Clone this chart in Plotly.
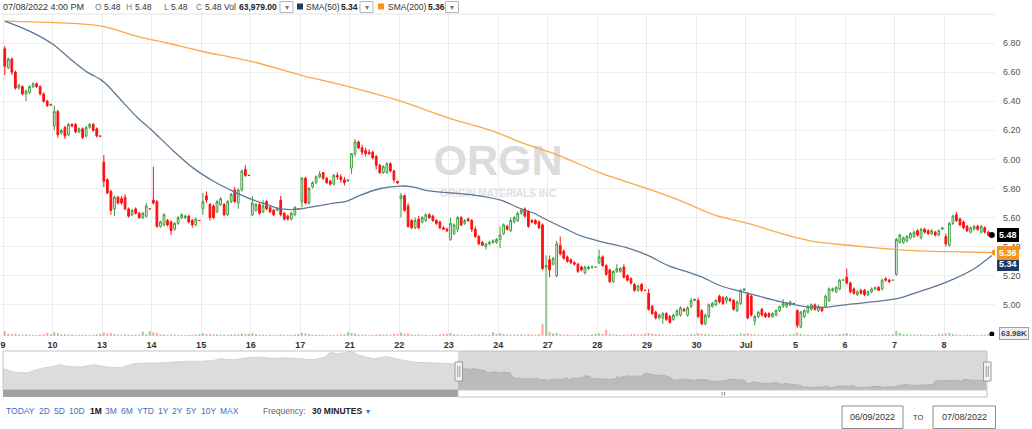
import plotly.graph_objects as go

W, H = 1032, 429
FONT = "Liberation Sans, Arial, sans-serif"

# ---------------- data ----------------
day_labels = ["9", "10", "13", "14", "15", "16", "17", "21", "22", "23", "24",
              "27", "28", "29", "30", "Jul", "5", "6", "7", "8"]
BARS_PER_DAY = 14   # 30-minute bars 9:30 ... 16:00

open_ = [
    6.76, 6.63, 6.69, 6.60, 6.49, 6.50, 6.45, 6.46, 6.50, 6.52, 6.50, 6.45, 6.40, 6.37,
    6.23, 6.33, 6.18, 6.22, 6.17, 6.24, 6.24, 6.19, 6.21, 6.16, 6.22, 6.24, 6.21, 6.16,
    5.98, 5.86, 5.78, 5.66, 5.74, 5.73, 5.74, 5.66, 5.62, 5.66, 5.63, 5.60, 5.61, 5.66,
    5.72, 5.71, 5.54, 5.55, 5.58, 5.57, 5.52, 5.56, 5.60, 5.60, 5.61, 5.58, 5.55, 5.58,
    5.66, 5.75, 5.69, 5.68, 5.64, 5.69, 5.69, 5.62, 5.71, 5.79, 5.70, 5.79, 5.93, 5.89,
    5.62, 5.65, 5.69, 5.64, 5.71, 5.67, 5.65, 5.65, 5.72, 5.63, 5.61, 5.59, 5.62, 5.66,
    5.71, 5.87, 5.70, 5.81, 5.84, 5.88, 5.91, 5.87, 5.85, 5.83, 5.89, 5.88, 5.86, 5.85,
    5.94, 6.04, 6.12, 6.08, 6.06, 6.05, 6.05, 6.02, 5.96, 5.91, 5.91, 5.97, 5.92, 5.85,
    5.73, 5.75, 5.68, 5.58, 5.53, 5.59, 5.57, 5.58, 5.62, 5.61, 5.58, 5.57, 5.53, 5.52,
    5.45, 5.49, 5.52, 5.60, 5.56, 5.59, 5.58, 5.52, 5.47, 5.43, 5.40, 5.42, 5.43, 5.43,
    5.45, 5.49, 5.54, 5.51, 5.57, 5.58, 5.63, 5.66, 5.64, 5.58, 5.58, 5.57, 5.55, 5.26,
    5.31, 5.28, 5.20, 5.41, 5.37, 5.33, 5.31, 5.29, 5.28, 5.26, 5.22, 5.25, 5.26, 5.26,
    5.29, 5.33, 5.27, 5.24, 5.16, 5.23, 5.23, 5.26, 5.20, 5.18, 5.14, 5.10, 5.14, 5.10,
    5.08, 4.99, 4.95, 4.91, 4.91, 4.94, 4.92, 4.90, 4.93, 4.93, 4.97, 4.93, 4.99, 5.03,
    5.03, 4.96, 4.87, 4.92, 4.99, 5.00, 5.06, 5.05, 5.03, 5.04, 5.03, 4.96, 5.01, 5.10,
    5.07, 5.06, 4.89, 4.92, 4.97, 4.94, 4.94, 4.92, 4.93, 4.96, 4.99, 4.99, 5.00, 5.01,
    4.96, 4.85, 4.92, 4.95, 4.97, 5.00, 4.96, 4.98, 4.99, 5.03, 5.10, 5.09, 5.11, 5.17,
    5.19, 5.15, 5.11, 5.07, 5.10, 5.10, 5.07, 5.09, 5.11, 5.12, 5.11, 5.18, 5.17, 5.17,
    5.21, 5.43, 5.43, 5.44, 5.46, 5.47, 5.51, 5.46, 5.52, 5.51, 5.49, 5.50, 5.48, 5.52,
    5.47, 5.41, 5.56, 5.62, 5.59, 5.57, 5.54, 5.50, 5.52, 5.54, 5.50, 5.53, 5.50, 5.48,
]
high = [
    6.78, 6.70, 6.70, 6.61, 6.52, 6.51, 6.48, 6.51, 6.53, 6.53, 6.51, 6.46, 6.41, 6.38,
    6.37, 6.34, 6.21, 6.23, 6.25, 6.25, 6.25, 6.22, 6.22, 6.23, 6.25, 6.25, 6.22, 6.16,
    6.03, 5.87, 5.79, 5.75, 5.75, 5.75, 5.76, 5.67, 5.66, 5.67, 5.64, 5.64, 5.70, 5.66,
    5.95, 5.72, 5.58, 5.63, 5.59, 5.58, 5.57, 5.61, 5.63, 5.62, 5.62, 5.59, 5.60, 5.58,
    5.77, 5.78, 5.70, 5.69, 5.72, 5.74, 5.70, 5.72, 5.77, 5.81, 5.80, 5.93, 5.96, 5.89,
    5.75, 5.70, 5.70, 5.72, 5.72, 5.68, 5.66, 5.67, 5.75, 5.64, 5.62, 5.64, 5.68, 5.66,
    5.88, 5.88, 5.81, 5.85, 5.89, 5.92, 5.91, 5.88, 5.86, 5.90, 5.91, 5.90, 5.88, 5.86,
    6.04, 6.14, 6.13, 6.10, 6.08, 6.07, 6.06, 6.03, 5.97, 5.96, 5.98, 5.98, 5.93, 5.85,
    5.77, 5.76, 5.70, 5.59, 5.60, 5.61, 5.61, 5.63, 5.63, 5.62, 5.59, 5.58, 5.54, 5.53,
    5.60, 5.56, 5.61, 5.61, 5.59, 5.60, 5.59, 5.54, 5.48, 5.44, 5.42, 5.44, 5.45, 5.46,
    5.54, 5.56, 5.55, 5.60, 5.61, 5.64, 5.66, 5.67, 5.65, 5.59, 5.59, 5.58, 5.56, 5.27,
    5.34, 5.33, 5.44, 5.47, 5.38, 5.34, 5.32, 5.30, 5.29, 5.27, 5.27, 5.27, 5.27, 5.26,
    5.38, 5.34, 5.28, 5.25, 5.24, 5.28, 5.26, 5.28, 5.21, 5.19, 5.15, 5.14, 5.15, 5.10,
    5.11, 5.00, 4.96, 4.94, 4.95, 4.95, 4.93, 4.94, 4.97, 4.99, 4.98, 4.99, 5.05, 5.04,
    5.05, 4.97, 4.94, 5.01, 5.02, 5.04, 5.07, 5.06, 5.06, 5.05, 5.04, 5.03, 5.11, 5.11,
    5.09, 5.07, 4.93, 4.96, 4.98, 4.95, 4.95, 4.95, 4.97, 4.99, 5.04, 5.02, 5.03, 5.01,
    4.97, 4.96, 4.97, 5.00, 5.01, 5.01, 5.00, 4.99, 5.07, 5.12, 5.12, 5.13, 5.18, 5.18,
    5.25, 5.16, 5.12, 5.10, 5.11, 5.11, 5.10, 5.12, 5.12, 5.13, 5.18, 5.19, 5.18, 5.17,
    5.46, 5.49, 5.47, 5.48, 5.50, 5.51, 5.52, 5.53, 5.53, 5.52, 5.52, 5.51, 5.52, 5.53,
    5.49, 5.57, 5.62, 5.64, 5.60, 5.58, 5.55, 5.54, 5.55, 5.55, 5.55, 5.54, 5.51, 5.48,
]
low = [
    6.58, 6.62, 6.58, 6.48, 6.48, 6.44, 6.40, 6.45, 6.49, 6.49, 6.44, 6.39, 6.36, 6.37,
    6.20, 6.15, 6.17, 6.14, 6.16, 6.22, 6.18, 6.18, 6.14, 6.15, 6.21, 6.19, 6.15, 6.16,
    5.81, 5.76, 5.62, 5.61, 5.69, 5.69, 5.65, 5.60, 5.61, 5.62, 5.59, 5.59, 5.60, 5.66,
    5.69, 5.53, 5.53, 5.54, 5.54, 5.48, 5.51, 5.55, 5.59, 5.59, 5.56, 5.53, 5.54, 5.58,
    5.62, 5.70, 5.58, 5.59, 5.63, 5.68, 5.61, 5.61, 5.70, 5.70, 5.66, 5.78, 5.88, 5.89,
    5.61, 5.64, 5.62, 5.63, 5.65, 5.63, 5.61, 5.65, 5.61, 5.58, 5.58, 5.58, 5.61, 5.66,
    5.67, 5.69, 5.69, 5.80, 5.83, 5.87, 5.86, 5.83, 5.82, 5.82, 5.86, 5.84, 5.82, 5.85,
    5.90, 6.02, 6.07, 6.03, 6.02, 6.03, 6.00, 5.93, 5.90, 5.90, 5.90, 5.91, 5.84, 5.83,
    5.60, 5.64, 5.53, 5.52, 5.52, 5.52, 5.56, 5.57, 5.59, 5.57, 5.55, 5.52, 5.52, 5.50,
    5.44, 5.48, 5.50, 5.54, 5.55, 5.57, 5.50, 5.46, 5.41, 5.41, 5.38, 5.41, 5.42, 5.42,
    5.39, 5.48, 5.51, 5.50, 5.56, 5.57, 5.62, 5.60, 5.53, 5.56, 5.55, 5.52, 5.24, 5.25,
    5.19, 5.27, 5.19, 5.34, 5.31, 5.29, 5.28, 5.27, 5.22, 5.23, 5.21, 5.24, 5.25, 5.26,
    5.28, 5.26, 5.20, 5.15, 5.15, 5.22, 5.22, 5.18, 5.16, 5.14, 5.09, 5.09, 5.09, 5.10,
    4.96, 4.93, 4.90, 4.90, 4.87, 4.89, 4.87, 4.89, 4.92, 4.92, 4.95, 4.92, 4.98, 5.03,
    4.91, 4.86, 4.86, 4.91, 4.98, 4.99, 5.01, 5.00, 5.01, 5.02, 4.96, 4.95, 5.00, 5.10,
    4.90, 4.92, 4.86, 4.91, 4.92, 4.91, 4.91, 4.91, 4.92, 4.95, 4.98, 4.98, 4.99, 5.01,
    4.84, 4.84, 4.91, 4.94, 4.96, 4.96, 4.95, 4.95, 4.98, 5.02, 5.09, 5.08, 5.10, 5.17,
    5.14, 5.08, 5.07, 5.06, 5.07, 5.06, 5.06, 5.08, 5.10, 5.10, 5.10, 5.16, 5.15, 5.17,
    5.20, 5.42, 5.42, 5.43, 5.45, 5.46, 5.47, 5.45, 5.49, 5.48, 5.48, 5.47, 5.47, 5.52,
    5.40, 5.40, 5.55, 5.57, 5.54, 5.52, 5.50, 5.49, 5.51, 5.51, 5.49, 5.49, 5.47, 5.48,
]
close = [
    6.64, 6.69, 6.60, 6.49, 6.51, 6.45, 6.47, 6.50, 6.52, 6.50, 6.45, 6.40, 6.37, 6.38,
    6.33, 6.17, 6.20, 6.16, 6.24, 6.23, 6.19, 6.21, 6.15, 6.22, 6.24, 6.20, 6.16, 6.16,
    5.85, 5.77, 5.65, 5.74, 5.70, 5.70, 5.66, 5.61, 5.65, 5.63, 5.60, 5.63, 5.68, 5.66,
    5.70, 5.54, 5.57, 5.62, 5.55, 5.51, 5.56, 5.60, 5.62, 5.61, 5.57, 5.55, 5.59, 5.58,
    5.71, 5.72, 5.60, 5.60, 5.71, 5.73, 5.62, 5.71, 5.76, 5.71, 5.79, 5.92, 5.89, 5.89,
    5.70, 5.69, 5.63, 5.68, 5.66, 5.64, 5.62, 5.66, 5.62, 5.59, 5.59, 5.63, 5.67, 5.66,
    5.87, 5.70, 5.80, 5.84, 5.88, 5.90, 5.87, 5.84, 5.83, 5.89, 5.88, 5.86, 5.84, 5.86,
    6.04, 6.12, 6.08, 6.05, 6.04, 6.04, 6.01, 5.96, 5.91, 5.95, 5.97, 5.92, 5.86, 5.84,
    5.75, 5.65, 5.54, 5.53, 5.58, 5.53, 5.60, 5.62, 5.60, 5.58, 5.56, 5.53, 5.52, 5.51,
    5.56, 5.55, 5.60, 5.55, 5.58, 5.58, 5.52, 5.47, 5.42, 5.41, 5.42, 5.43, 5.44, 5.45,
    5.48, 5.55, 5.52, 5.58, 5.60, 5.63, 5.65, 5.61, 5.54, 5.57, 5.56, 5.53, 5.25, 5.27,
    5.24, 5.32, 5.42, 5.35, 5.32, 5.30, 5.29, 5.28, 5.23, 5.24, 5.26, 5.26, 5.26, 5.26,
    5.33, 5.27, 5.21, 5.16, 5.23, 5.25, 5.25, 5.19, 5.17, 5.15, 5.10, 5.13, 5.10, 5.10,
    4.97, 4.94, 4.91, 4.93, 4.94, 4.90, 4.88, 4.93, 4.96, 4.98, 4.96, 4.98, 5.03, 5.04,
    4.92, 4.87, 4.93, 5.00, 5.01, 5.03, 5.02, 5.01, 5.05, 5.03, 4.97, 5.02, 5.10, 5.11,
    4.91, 4.93, 4.92, 4.95, 4.93, 4.92, 4.92, 4.94, 4.96, 4.99, 5.01, 5.01, 5.02, 5.01,
    4.86, 4.95, 4.96, 4.99, 5.00, 4.97, 4.99, 4.96, 5.06, 5.11, 5.11, 5.12, 5.17, 5.17,
    5.15, 5.09, 5.08, 5.09, 5.08, 5.07, 5.09, 5.11, 5.12, 5.10, 5.17, 5.17, 5.16, 5.17,
    5.45, 5.48, 5.46, 5.47, 5.49, 5.50, 5.48, 5.52, 5.50, 5.49, 5.51, 5.48, 5.51, 5.53,
    5.42, 5.56, 5.61, 5.58, 5.55, 5.53, 5.51, 5.53, 5.54, 5.52, 5.54, 5.50, 5.48, 5.48,
]
volume_k = [
    150, 70, 60, 80, 40, 45, 50, 35, 30, 30, 45, 60, 100, 60,
    120, 90, 50, 60, 45, 40, 40, 35, 40, 35, 30, 40, 55, 70,
    110, 80, 90, 60, 45, 40, 50, 45, 35, 40, 45, 140, 60, 150,
    120, 90, 50, 45, 40, 50, 40, 35, 30, 30, 35, 40, 50, 60,
    90, 60, 70, 50, 45, 40, 45, 40, 50, 55, 50, 80, 60, 70,
    80, 50, 45, 40, 35, 40, 35, 30, 45, 40, 35, 35, 45, 60,
    100, 80, 60, 45, 40, 35, 40, 35, 30, 35, 40, 45, 60, 120,
    100, 80, 50, 45, 40, 35, 40, 50, 60, 45, 40, 45, 70, 60,
    110, 70, 80, 50, 40, 45, 35, 35, 30, 35, 40, 50, 60, 70,
    90, 55, 45, 40, 35, 30, 40, 45, 50, 40, 35, 40, 120, 60,
    90, 60, 45, 40, 45, 40, 45, 40, 55, 45, 40, 60, 380, 2500,
    130, 80, 90, 60, 45, 40, 35, 35, 40, 35, 30, 35, 50, 70,
    80, 60, 190, 70, 45, 40, 35, 40, 45, 50, 60, 45, 55, 70,
    100, 70, 60, 45, 40, 35, 35, 30, 35, 40, 35, 40, 60, 50,
    90, 70, 60, 50, 40, 35, 40, 35, 30, 40, 45, 40, 80, 60,
    90, 60, 45, 40, 35, 30, 30, 35, 30, 35, 40, 35, 50, 60,
    100, 70, 45, 40, 35, 35, 30, 30, 45, 50, 40, 40, 60, 70,
    90, 60, 45, 40, 35, 30, 30, 35, 30, 30, 45, 40, 40, 60,
    160, 90, 60, 50, 45, 40, 40, 45, 40, 35, 35, 40, 55, 70,
    80, 100, 60, 45, 40, 35, 40, 35, 30, 30, 35, 40, 55, 63.979,
]

# moving averages (bar index, value)
sma50_idx = [0, 8, 13.7, 18.5, 23.3, 27, 29, 33.5, 37.4, 42, 47.6, 53.3, 59, 64.6, 70.3,
             74.2, 77, 80.8, 83.6, 88.4, 92.9, 96.3, 100.6, 106.2, 111.9, 115.6, 119.5,
             126, 132.6, 140.2, 145.9, 149.6, 153.5, 159.2, 162.9, 168.5, 176.2, 181.8,
             187.5, 192.6, 196.8, 202.5, 210.1, 219.5, 227.1, 232.8, 238.5, 245.8, 252.6,
             257.1, 262.8, 268.5, 274.1, 279]
sma50_val = [6.95, 6.87, 6.79, 6.69, 6.60, 6.55, 6.51, 6.39, 6.29, 6.19, 6.06, 5.94, 5.85,
             5.78, 5.72, 5.69, 5.665, 5.655, 5.66, 5.68, 5.70, 5.71, 5.755, 5.80, 5.817,
             5.81, 5.785, 5.77, 5.755, 5.72, 5.66, 5.63, 5.58, 5.515, 5.474, 5.435, 5.39,
             5.34, 5.27, 5.23, 5.194, 5.13, 5.08, 5.02, 4.985, 4.985, 5.004, 5.022, 5.045,
             5.08, 5.125, 5.18, 5.25, 5.34]
sma200_idx = [0, 27, 38.3, 45.9, 55.3, 70.3, 83.6, 96.3, 111.9, 126, 137.4, 146.7, 156.3,
              168.5, 182.7, 192.6, 200.5, 210.1, 219.5, 228.8, 238.5, 247.8, 257.1,
              266.8, 279]
sma200_val = [6.95, 6.917, 6.84, 6.80, 6.745, 6.67, 6.58, 6.505, 6.40, 6.28, 6.20, 6.11,
              6.03, 5.905, 5.79, 5.70, 5.618, 5.56, 5.49, 5.435, 5.41, 5.389, 5.373,
              5.366, 5.36]

# navigator: earlier closes (bar index relative to Jun 9 open, price)
nav_prev_idx = [-241.4, -235.8, -228.7, -221.7, -214.6, -211, -207.5, -200.4, -193.4,
                -186.3, -179.3, -172.2, -165.2, -158.2, -151.1, -144.1, -137, -130,
                -126.5, -119.4, -112.4, -105.3, -98.3, -91.2, -84.2, -77.1, -70.9, -68.2,
                -64.7, -59.4, -57.6, -52.4, -45.3, -38.2, -31.2, -24.1, -17.1, -10, -3]
nav_prev_close = [6.51, 6.23, 6.14, 6.51, 6.70, 6.84, 6.70, 6.64, 6.84, 6.64, 6.59, 6.92,
                  6.98, 6.98, 7.06, 7.14, 7.12, 7.20, 7.34, 7.26, 7.42, 7.48, 7.37, 7.42,
                  7.34, 7.26, 7.48, 7.89, 7.76, 7.87, 7.98, 7.62, 7.34, 7.53, 7.26, 7.06,
                  7.01, 6.98, 6.92]

# ---------------- geometry helpers ----------------
def X(px):
    return px / W

def Y(py):
    return 1 - py / H

PX_PER_BAR = 49.53 / BARS_PER_DAY
def idx_at(px):
    return (px - 3) / PX_PER_BAR - 0.5

def price_at(py):
    return 6.80 - (py - 43) / 145.5

n = len(close)
bars = list(range(n))

fig = go.Figure()

# watermark (under everything)
fig.add_trace(go.Scatter(x=[idx_at(498)], y=[price_at(164)], mode="text", text=["ORGN"],
                         textfont=dict(size=43, color="#dcdcdc", family=FONT, weight="bold"),
                         hoverinfo="skip", showlegend=False))
fig.add_trace(go.Scatter(x=[idx_at(498)], y=[price_at(194.5)], mode="text",
                         text=["ORIGIN MATERIALS INC"],
                         textfont=dict(size=10, color="#e0e0e0", family=FONT, weight="bold"),
                         hoverinfo="skip", showlegend=False))

# moving averages
fig.add_trace(go.Scatter(x=sma200_idx, y=sma200_val, mode="lines",
                         line=dict(color="#f9a94b", width=1.3, shape="spline", smoothing=0.8),
                         hoverinfo="skip", showlegend=False))
fig.add_trace(go.Scatter(x=sma50_idx, y=sma50_val, mode="lines",
                         line=dict(color="#5d7896", width=1.3, shape="spline", smoothing=0.8),
                         hoverinfo="skip", showlegend=False))

# candles
fig.add_trace(go.Candlestick(
    x=bars, open=open_, high=high, low=low, close=close,
    increasing=dict(line=dict(color="#3d9b3d", width=1), fillcolor="white"),
    decreasing=dict(line=dict(color="#ff1010", width=1), fillcolor="#ff1010"),
    whiskerwidth=0, hoverinfo="skip", showlegend=False))

# last price marker
fig.add_trace(go.Scatter(x=[bars[-1]], y=[close[-1]], mode="markers",
                         marker=dict(color="black", size=6), hoverinfo="skip",
                         showlegend=False))
fig.add_trace(go.Scatter(x=[sma200_idx[-1] + 0.8], y=[sma200_val[-1]], mode="markers",
                         marker=dict(color="#f7941d", size=6), hoverinfo="skip",
                         showlegend=False))

# volume
vol_colors = ["rgba(80,170,80,0.55)" if c >= o else "rgba(255,60,60,0.45)"
              for o, c in zip(open_, close)]
fig.add_trace(go.Bar(x=bars, y=volume_k, yaxis="y2",
                     marker=dict(color=vol_colors, line=dict(width=0)),
                     width=0.6, hoverinfo="skip", showlegend=False))
fig.add_trace(go.Scatter(x=[bars[-1]], y=[volume_k[-1]], yaxis="y2", mode="markers",
                         marker=dict(color="black", size=5), hoverinfo="skip",
                         showlegend=False))

# navigator area
fig.add_trace(go.Scatter(x=nav_prev_idx + bars, y=nav_prev_close + close,
                         xaxis="x2", yaxis="y3", mode="lines", fill="tozeroy",
                         fillcolor="#dcdcdc", line=dict(color="#d2d2d2", width=1),
                         hoverinfo="skip", showlegend=False))

price_ticks = [5.0, 5.2, 5.4, 5.6, 5.8, 6.0, 6.2, 6.4, 6.6, 6.8]

fig.update_layout(
    width=W, height=H,
    margin=dict(l=0, r=0, t=0, b=0),
    paper_bgcolor="white", plot_bgcolor="white",
    showlegend=False, template="none",
    font=dict(family=FONT),
    xaxis=dict(domain=[0, X(995)], range=[idx_at(0), idx_at(995)],
               tickvals=[BARS_PER_DAY * k - 0.5 for k in range(len(day_labels))],
               ticktext=day_labels, showgrid=True, gridcolor="#ebebeb", gridwidth=1,
               zeroline=False, showline=False, ticks="", ticklabelstandoff=2,
               tickfont=dict(size=9, color="#333333", family=FONT, weight="bold"),
               rangeslider=dict(visible=False), fixedrange=True),
    yaxis=dict(domain=[Y(336), Y(14)], range=[price_at(336), price_at(14)],
               side="right", tickvals=price_ticks, tickformat=".2f",
               showgrid=True, gridcolor="#eeeeee", zeroline=False, showline=False,
               ticks="", ticklabelstandoff=7,
               tickfont=dict(size=9, color="#555555", family=FONT), fixedrange=True),
    yaxis2=dict(overlaying="y", range=[0, 10000], visible=False, fixedrange=True),
    xaxis2=dict(domain=[X(3), X(987)], anchor="y3", range=[-0.5 - 455 / 1.889, 279.5],
                visible=False, fixedrange=True),
    yaxis3=dict(domain=[Y(389.3), Y(351)], anchor="x2", range=[4.76, 8.0],
                visible=False, fixedrange=True),
)

shapes = []
annotations = []

def rect(x0, y0, x1, y1, fill=None, line=None, lw=1, layer="above"):
    shapes.append(dict(type="rect", xref="paper", yref="paper",
                       x0=X(x0), x1=X(x1), y0=Y(y1), y1=Y(y0),
                       fillcolor=fill if fill else "rgba(0,0,0,0)",
                       line=dict(color=line if line else "rgba(0,0,0,0)", width=lw if line else 0),
                       layer=layer))

def seg(x0, y0, x1, y1, color, lw=1):
    shapes.append(dict(type="line", xref="paper", yref="paper",
                       x0=X(x0), x1=X(x1), y0=Y(y0), y1=Y(y1),
                       line=dict(color=color, width=lw)))

def text(s, x, y, size=9, color="#333333", bold=False, anchor="left", **kw):
    annotations.append(dict(text=f"<b>{s}</b>" if bold else s, xref="paper", yref="paper",
                            x=X(x), y=Y(y), xanchor=anchor, yanchor="middle",
                            showarrow=False, borderpad=0,
                            font=dict(size=size, color=color, family=FONT), **kw))

# top border of plot
seg(0, 14, 995, 14, "#e4e4e4")

# ---------- header ----------
HS = 8.5
text("07/08/2022 4:00 PM", 1.5, 7, size=9, color="#333333")
for lab, lx, vx, val in [("O", 94, 103, open_[-1]), ("H", 125, 134, high[-1]),
                         ("L", 163, 170, low[-1]), ("C", 195, 204, close[-1])]:
    text(lab, lx, 7, size=HS, color="#777777")
    text(f"{val:.2f}", vx, 7, size=HS, color="#333333")
text("Vol", 223, 7, size=HS, color="#333333")
text(f"{volume_k[-1] * 1000:,.2f}", 238, 7, size=HS, color="#222222", bold=True)

def dropdown(x0):
    rect(x0, 1.5, x0 + 13, 12.5, fill="white", line="#b5b5b5")
    text("▾", x0 + 6.5, 7, size=8, color="#777777", anchor="center")

dropdown(280)
rect(297, 3.5, 303, 9.5, fill="#1f3a64")
text("SMA(50)", 305, 7, size=HS, color="#333333")
text(f"{sma50_val[-1]:.2f}", 340, 7, size=HS, color="#222222", bold=True)
dropdown(360)
rect(378, 3.5, 384, 9.5, fill="#f7941d")
text("SMA(200)", 386.5, 7, size=HS, color="#333333")
text(f"{sma200_val[-1]:.2f}", 427, 7, size=HS, color="#222222", bold=True)
dropdown(445.5)

# ---------- right-side value labels ----------
for val, bg, shift in [(sma50_val[-1], "#1f3a64", -9), (sma200_val[-1], "#f7941d", 0),
                       (close[-1], "#000000", 0)]:
    annotations.append(dict(text=f"<b>{val:.2f}</b>", xref="paper", yref="y",
                            x=X(997), y=val, xanchor="left", yanchor="middle", yshift=shift,
                            showarrow=False, bgcolor=bg, bordercolor=bg, borderwidth=1,
                            borderpad=1, font=dict(size=9, color="white", family=FONT)))
annotations.append(dict(text=f"<b>{volume_k[-1]:.2f}K</b>", xref="paper", yref="y2",
                        x=X(999), y=volume_k[-1], xanchor="left", yanchor="middle",
                        showarrow=False, bgcolor="#efefef", bordercolor="#a0a0a0",
                        borderwidth=1, borderpad=1,
                        font=dict(size=8, color="#444444", family=FONT)))

# ---------- navigator ----------
rect(458, 351, 987, 389.3, fill="rgba(0,0,0,0.15)")
rect(3, 351, 987, 389.5, line="#c4c4c4")
# scrollbar
rect(3, 390, 458, 397, fill="#a2a2a2")
rect(458, 390, 987, 397, fill="white", line="#c0c0c0")
seg(722, 392, 722, 395.5, "#888888")
seg(724.5, 392, 724.5, 395.5, "#888888")
# handles
for hx in (455, 983.5):
    rect(hx, 362, hx + 7.5, 381, fill="#f4f4f4", line="#999999")
    seg(hx + 2.7, 366, hx + 2.7, 377, "#999999")
    seg(hx + 4.8, 366, hx + 4.8, 377, "#999999")

# ---------- bottom toolbar ----------
BLUE = "#3d6fc4"
for lab, bx in [("TODAY", 5), ("2D", 38), ("5D", 53), ("10D", 68), ("1M", 89), ("3M", 104),
                ("6M", 120), ("YTD", 136), ("1Y", 157), ("2Y", 171), ("5Y", 185),
                ("10Y", 200), ("MAX", 219)]:
    if lab == "1M":
        text(lab, bx, 410.5, size=8.5, color="#111111", bold=True)
    else:
        text(lab, bx, 410.5, size=8.5, color=BLUE)
text("Frequency:", 262, 410.5, size=8.5, color="#666666")
text("30 MINUTES", 311, 410.5, size=8.5, color="#222222", bold=True)
text("▾", 365, 411, size=8, color=BLUE)

rect(842, 406, 903, 428.5, fill="white", line="#8c8c8c")
text("06/09/2022", 872.5, 417, size=9, color="#333333", anchor="center")
text("TO", 918, 417, size=7.5, color="#333333", anchor="center")
rect(933, 406, 995.5, 428.5, fill="white", line="#8c8c8c")
text("07/08/2022", 964.3, 417, size=9, color="#333333", anchor="center")

fig.update_layout(shapes=shapes, annotations=annotations)
fig.write_html("out.html")
